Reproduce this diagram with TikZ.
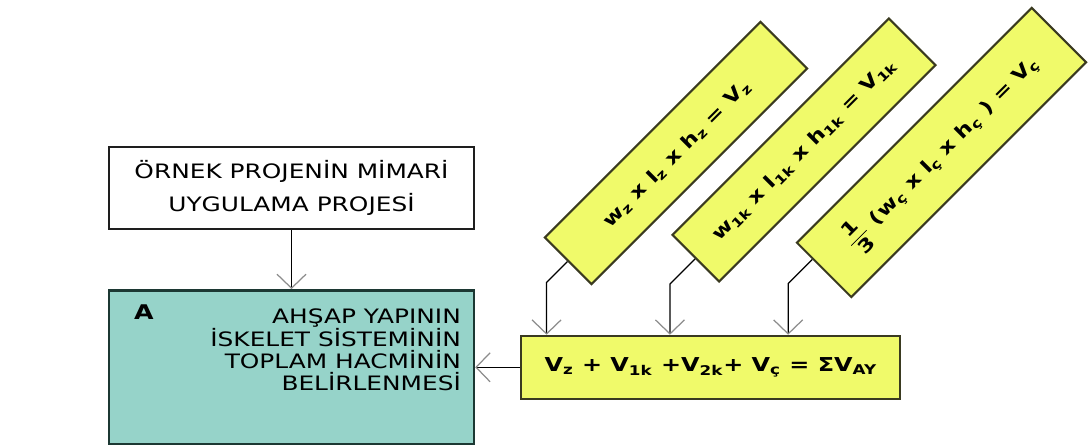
\documentclass[tikz,border=0pt]{standalone}
\usepackage{fontspec}
\setmainfont{DejaVu Sans}[FakeStretch=1.25]
\usepackage{tikz}
\definecolor{boxline}{HTML}{1E1E1E}
\definecolor{tealfill}{HTML}{96D3C9}
\definecolor{tealline}{HTML}{1C3833}
\definecolor{yelfill}{HTML}{F0FA6A}
\definecolor{yelline}{HTML}{3A3A20}
\definecolor{tipgray}{HTML}{8C8C8C}
\usetikzlibrary{arrows.meta, positioning, calc}
\tikzset{
	pbox/.style={draw=boxline, line width=1.2pt, fill=white, align=center, inner sep=0pt,
		minimum width=7.3cm, minimum height=1.64cm, font=\fontsize{11.3}{18.7}\selectfont},
	tbox/.style={draw=tealline, line width=1.4pt, fill=tealfill, inner sep=0pt,
		minimum width=7.3cm, minimum height=3.08cm},
	ybox/.style={draw=yelline, line width=1.2pt, fill=yelfill, inner sep=0pt,
		font=\bfseries\fontsize{10.9}{14}\selectfont},
	rbox/.style={ybox, rotate=45, font=\bfseries\fontsize{10.4}{13}\selectfont},
	parr/.style={-{Straight Barb[length=2.8mm, width=5.8mm, color=tipgray]}, line width=0.7pt, draw=black}
}

\begin{document}
\begin{tikzpicture}[node distance=1.18cm and 0.9cm]
	\useasboundingbox (0,0) rectangle (21.78,8.88);
	\node[pbox] (prj) at (5.83,5.12) {ÖRNEK PROJENİN MİMARİ\\UYGULAMA PROJESİ};
	\node[tbox, below=of prj] (vol) {};
	\node[anchor=north east, align=right, inner sep=0pt, font=\fontsize{11.3}{12.5}\selectfont] (voltxt)
		at ([xshift=-0.28cm, yshift=-0.38cm]vol.north east) {AHŞAP YAPININ\\İSKELET SİSTEMİNİN\\TOPLAM HACMİNİN\\BELİRLENMESİ};
	\node[anchor=north west, inner sep=0pt, font=\bfseries\fontsize{11.5}{12}\selectfont] (lblA)
		at ([xshift=0.52cm, yshift=-0.3cm]vol.north west) {A};
	\node[ybox, right=of vol, minimum width=7.58cm, minimum height=1.26cm] (sum)
		{V\textsubscript{z} + V\textsubscript{1k} +V\textsubscript{2k}+ V\textsubscript{ç} = ΣV\textsubscript{AY}};
	% rotated formula boxes
	\node[rbox, minimum width=6.1cm, minimum height=1.32cm, text depth=0pt] (vz) at (13.52,5.82)
		{w\textsubscript{z} x l\textsubscript{z} x h\textsubscript{z} = V\textsubscript{z}\hspace{0.5cm}};
	\node[rbox, minimum width=6.12cm, minimum height=1.32cm] (vk) at (16.08,5.88)
		{w\textsubscript{1k} x l\textsubscript{1k} x h\textsubscript{1k} = V\textsubscript{1k}};
	\node[rbox, minimum width=6.64cm, minimum height=1.54cm] (vc) at (18.83,5.83)
		{$\displaystyle\frac{\,\mbox{1}\,}{\,\mbox{3}\,}$ (w\textsubscript{ç} x l\textsubscript{ç} x h\textsubscript{ç} ) = V\textsubscript{ç}};
	\draw[parr] (prj) -- (vol);
	\draw[parr] (sum.west) -- (sum.west -| vol.east);
	\draw[parr] (vz.west) -- ++(225:0.59) coordinate (kz) -- (kz |- sum.north);
	\draw[parr] (vk.west) -- ++(225:0.71) coordinate (kk) -- (kk |- sum.north);
	\draw[parr] ($(vc.north west)!0.3!(vc.south west)$) -- ++(225:0.68) coordinate (kc) -- (kc |- sum.north);
\end{tikzpicture}
\end{document}
